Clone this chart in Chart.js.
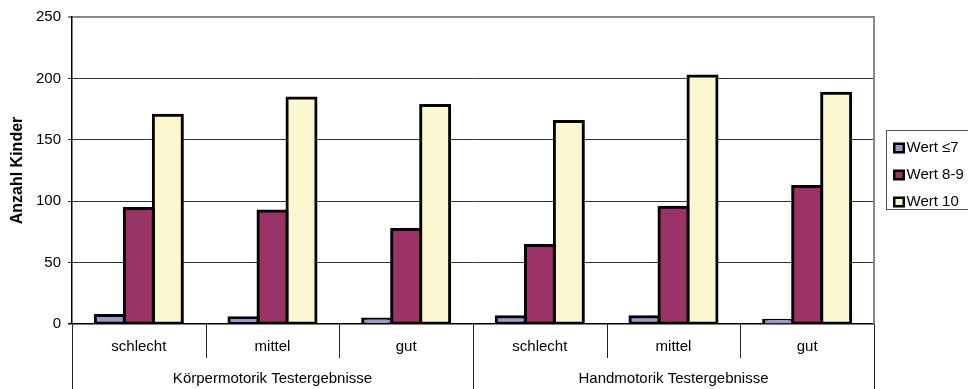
<!DOCTYPE html>
<html>
<head>
<meta charset="utf-8">
<script src="https://cdn.jsdelivr.net/npm/chart.js@4/dist/chart.umd.min.js"></script>
<style>
  html, body { margin: 0; padding: 0; background: #fff; overflow: hidden; }
  canvas { display: block; }
</style>
</head>
<body>
<canvas id="c" width="968" height="389"></canvas>
<script>
// Test results, split by motor skill area and rating
const groups = ['Körpermotorik Testergebnisse', 'Handmotorik Testergebnisse'];
const categories = ['schlecht', 'mittel', 'gut', 'schlecht', 'mittel', 'gut'];
const seriesNames = ['Wert ≤7', 'Wert 8-9', 'Wert 10'];
const wertBis7 = [7, 5, 4, 6, 6, 3];
const wert8bis9 = [94, 92, 77, 64, 95, 112];
const wert10 = [170, 184, 178, 165, 202, 188];
const yTicks = [0, 50, 100, 150, 200, 250];

const FONT = "'Liberation Sans', Arial, sans-serif";
Chart.defaults.font.family = FONT;
Chart.defaults.color = '#000';

const colors = ['#9999CC', '#993366', '#FBF8D0'];
const seriesValues = [wertBis7, wert8bis9, wert10];

// category separators and the second row of group labels under the x axis
const axisGroups = {
  id: 'axisGroups',
  afterDraw(chart) {
    const { ctx, chartArea: a, scales: { x } } = chart;
    const n = categories.length;
    const perGroup = n / groups.length;
    const half = (x.getPixelForValue(1) - x.getPixelForValue(0)) / 2;
    ctx.save();
    // right border of the plot area
    ctx.strokeStyle = '#888';
    ctx.lineWidth = 2;
    ctx.beginPath();
    ctx.moveTo(a.right, a.top - 1);
    ctx.lineTo(a.right, a.bottom);
    ctx.stroke();
    // separators between the categories
    ctx.strokeStyle = '#222';
    ctx.lineWidth = 1;
    for (let i = 0; i <= n; i++) {
      const px = Math.round(x.getPixelForValue(0) - half + i * 2 * half) + 0.5;
      const long = i % perGroup === 0;
      ctx.beginPath();
      ctx.moveTo(px, a.bottom);
      ctx.lineTo(px, long ? chart.height : a.bottom + 34);
      ctx.stroke();
    }
    // group labels
    ctx.fillStyle = '#000';
    ctx.font = '15px ' + FONT;
    ctx.textAlign = 'center';
    ctx.textBaseline = 'middle';
    groups.forEach((g, gi) => {
      const first = x.getPixelForValue(gi * perGroup) - half;
      const last = x.getPixelForValue((gi + 1) * perGroup - 1) + half;
      ctx.fillText(g, (first + last) / 2, 379);
    });
    ctx.restore();
  }
};

// boxed legend on the right
const boxLegend = {
  id: 'boxLegend',
  afterDraw(chart) {
    const { ctx } = chart;
    const left = 886.5, top = 130.5, rowH = 27;
    ctx.save();
    ctx.fillStyle = '#fff';
    ctx.strokeStyle = '#555';
    ctx.lineWidth = 1;
    ctx.fillRect(left, top, 100, 79);
    ctx.strokeRect(left, top, 100, 79);
    chart.data.datasets.forEach((ds, i) => {
      const cy = top + 17.5 + i * rowH;
      ctx.fillStyle = '#000';
      ctx.fillRect(left + 6.5, cy - 5.5, 12, 11);
      ctx.fillStyle = ds.backgroundColor;
      ctx.fillRect(left + 9, cy - 3, 7, 6);
      ctx.fillStyle = '#000';
      ctx.font = '15px ' + FONT;
      ctx.textAlign = 'left';
      ctx.textBaseline = 'middle';
      ctx.fillText(ds.label, left + 20, cy);
    });
    ctx.restore();
  }
};

new Chart(document.getElementById('c'), {
  type: 'bar',
  data: {
    labels: categories,
    datasets: seriesNames.map((name, i) => ({
      label: name,
      data: seriesValues[i],
      backgroundColor: colors[i],
      borderColor: '#000',
      borderWidth: 3,
      borderSkipped: false,
      inflateAmount: 1.5,
      barPercentage: 1,
      categoryPercentage: 0.651
    }))
  },
  options: {
    responsive: false,
    animation: false,
    devicePixelRatio: 1,
    layout: { padding: { left: 0, right: 94, top: 17, bottom: 0 } },
    plugins: { legend: { display: false }, tooltip: { enabled: false } },
    scales: {
      x: {
        offset: true,
        grid: { display: false, drawTicks: false },
        border: { display: false },
        ticks: { font: { size: 15 }, color: '#000', padding: 14, maxRotation: 0, autoSkip: false },
        afterFit(scale) { scale.height = 65; }
      },
      y: {
        min: 0,
        max: 250,
        afterBuildTicks(scale) { scale.ticks = yTicks.map(v => ({ value: v })); },
        ticks: { font: { size: 15 }, color: '#000', padding: 7 },
        grid: {
          tickLength: 4,
          color: ctx => ctx.tick && ctx.tick.value === 250 ? '#888' : (ctx.tick && ctx.tick.value === 0 ? '#000' : '#333'),
          lineWidth: ctx => ctx.tick && ctx.tick.value === 250 ? 2 : (ctx.tick && ctx.tick.value === 0 ? 1.5 : 1)
        },
        border: { color: '#000', width: 1.5 },
        title: {
          display: true,
          text: 'Anzahl Kinder',
          font: { size: 16, weight: 'bold' },
          color: '#000',
          padding: { top: 8, bottom: 0 }
        },
        afterFit(scale) { scale.width = 72; }
      }
    }
  },
  plugins: [axisGroups, boxLegend]
});
</script>
</body>
</html>
